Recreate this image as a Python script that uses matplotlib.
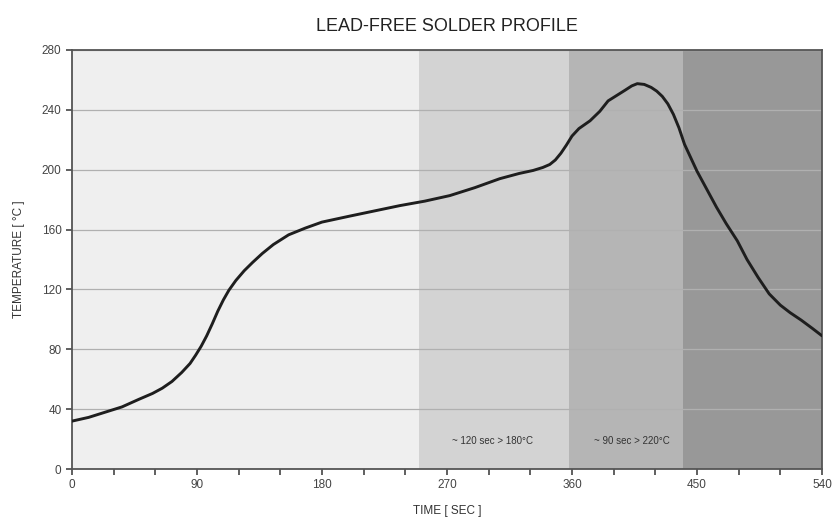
import matplotlib.pyplot as plt

time_sec = [0, 12, 24, 36, 48, 58, 65, 72, 79, 85, 89, 93, 97, 101, 105, 109, 113, 118,
            124, 130, 137, 145, 156, 168, 180, 200, 218, 236, 254, 272, 290, 308, 322,
            332, 339, 344, 348, 352, 356, 360, 365, 373, 380, 386, 392, 398, 403, 407,
            412, 417, 421, 425, 429, 433, 437, 441, 446, 450, 457, 464, 471, 479, 486,
            494, 502, 510, 517, 525, 533, 540]
temp_c = [32, 34.5, 38, 41.5, 46.5, 50.5, 54, 58.5, 64.5, 70.5, 76, 82, 89, 97, 105.5,
          113, 119.5, 126, 132.5, 138, 144, 150, 156.5, 161, 165, 169, 172.5, 176, 179,
          182.7, 188, 194, 197.5, 199.5, 201.5, 203.5, 206.5, 211, 216.5, 222.5, 227.5,
          232.7, 239, 246, 249.5, 253, 256, 257.5, 257, 255, 252.5, 249, 244, 237, 228,
          217, 207, 199, 187, 175, 164, 152.5, 140, 128, 117, 109.5, 104.5, 99.5, 94, 89]

zone_edges = [0, 250, 358, 440, 540]
zone_colors = ["#efefef", "#d3d3d3", "#b5b5b5", "#989898"]

zone_notes = ["~ 120 sec > 180°C", "~ 90 sec > 220°C"]
note_x = [303, 403]

plt.rcParams["font.family"] = ["Liberation Sans", "DejaVu Sans"]

fig = plt.figure(figsize=(8.32, 5.29), dpi=100)
ax = fig.add_axes([0.0865, 0.1134, 0.9015, 0.7921])

for i, c in enumerate(zone_colors):
    ax.axvspan(zone_edges[i], zone_edges[i + 1], color=c, lw=0, zorder=0)

for y in range(40, 281, 40):
    ax.axhline(y, color="#b0b0b0", lw=0.9, zorder=1)

ax.plot(time_sec, temp_c, color="#1e1e1e", lw=2.1, zorder=3,
        solid_capstyle="round", solid_joinstyle="round")

for t, x in zip(zone_notes, note_x):
    ax.text(x, 19, t, fontsize=7, ha="center", va="center", color="#333333")

ax.set_xlim(0, 540)
ax.set_ylim(0, 280)
ax.set_xticks(range(0, 541, 90))
ax.set_xticks(range(0, 541, 30), minor=True)
ax.set_yticks(range(0, 281, 40))
ax.tick_params(axis="both", labelsize=8.5, colors="#444444", length=4, width=1.2)
ax.tick_params(axis="x", which="minor", length=4, width=1.2, colors="#444444")
for s in ax.spines.values():
    s.set_color("#555555")
    s.set_linewidth(1.3)

ax.set_xlabel("TIME [ SEC ]", fontsize=8.5, color="#333333", labelpad=10)
ax.set_ylabel("TEMPERATURE [ °C ]", fontsize=8.5, color="#333333", labelpad=12)
ax.set_title("LEAD-FREE SOLDER PROFILE", fontsize=13, color="#222222", pad=14)

fig.savefig("out.png", dpi=100)
plt.close(fig)
